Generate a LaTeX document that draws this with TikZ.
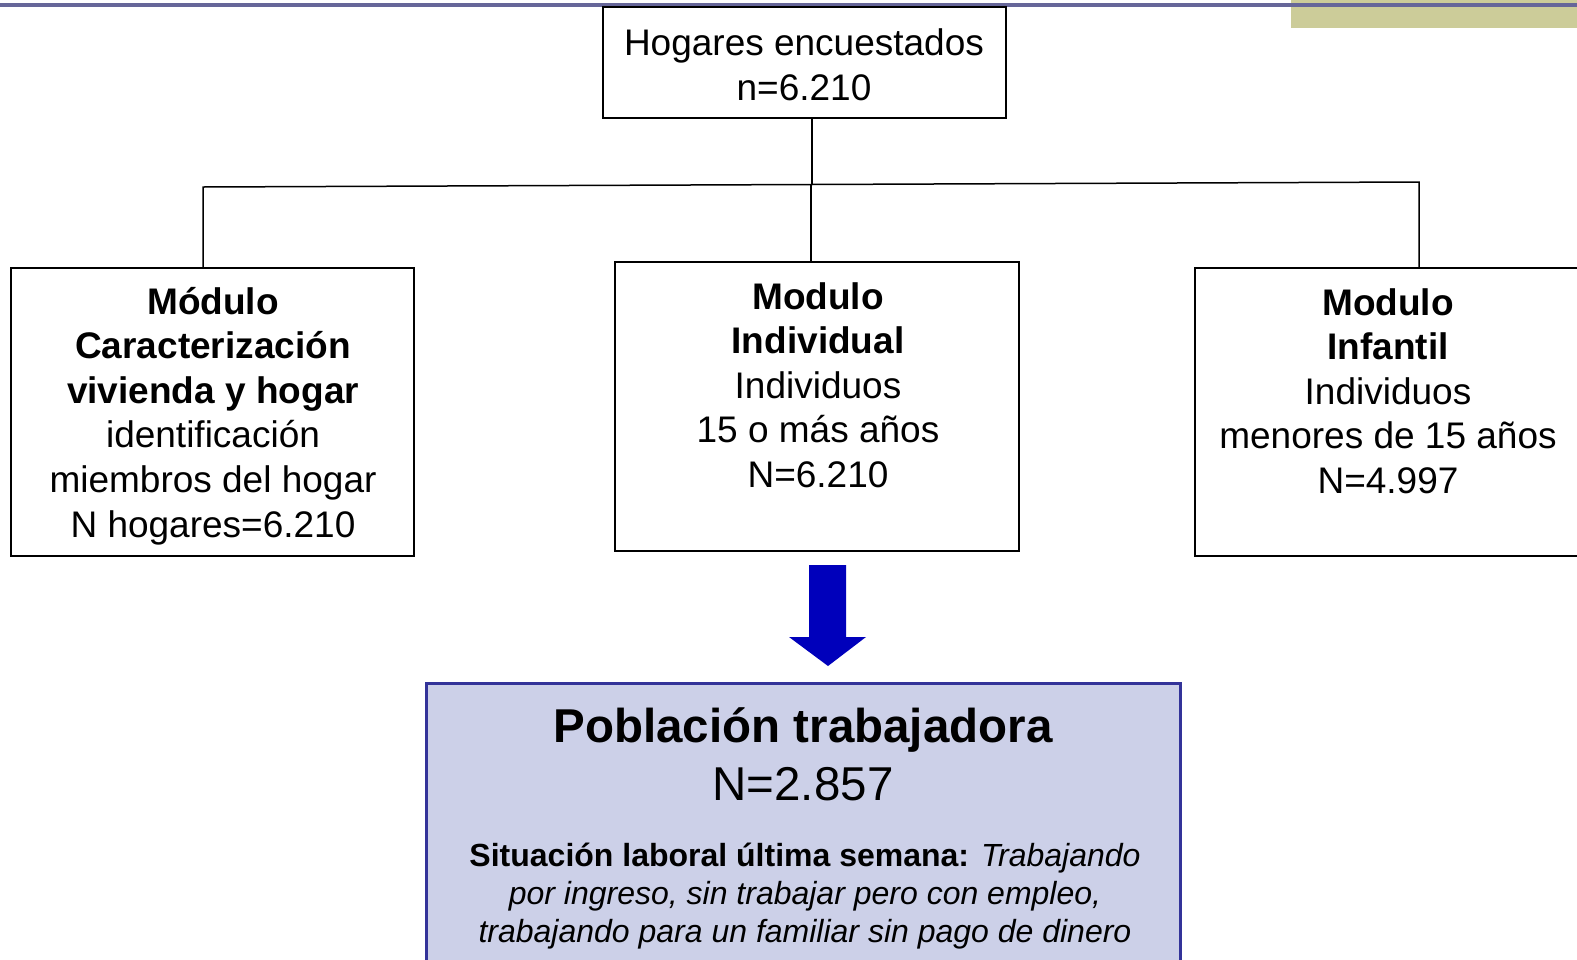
\documentclass[tikz,border=0pt]{standalone}
\usepackage{fontspec}
\setmainfont{Liberation Sans}
\definecolor{topline}{RGB}{102,102,153}
\definecolor{olive}{RGB}{204,204,153}
\definecolor{arrowblue}{RGB}{0,0,187}
\definecolor{popfill}{RGB}{204,208,232}
\definecolor{popdraw}{RGB}{51,51,153}
\begin{document}
\begin{tikzpicture}[x=1pt,y=-1pt,
  box/.style={draw=black, line width=1.6pt, fill=white, inner sep=0pt},
  conn/.style={draw=black, line width=1.5pt},
  txt/.style={align=center, font=\fontsize{37}{44.6}\selectfont, inner sep=0pt, anchor=base},
  popbox/.style={draw=popdraw, line width=3pt, fill=popfill, inner sep=0pt}]
\clip (0,0) rectangle (1577,959);
\useasboundingbox (0,0) rectangle (1577,959);
% header decorations
\fill[olive] (1291,0) rectangle (1577,28);
\fill[topline] (0,3) rectangle (1577,7);
% boxes
\node[box, minimum width=403pt, minimum height=111pt] (top) at (804.5,62.5) {};
\node[box, minimum width=403pt, minimum height=288pt] (left) at (212.5,412) {};
\node[box, minimum width=404pt, minimum height=289pt] (mid) at (817,406.5) {};
\node[box, minimum width=405pt, minimum height=288pt] (right) at (1397.5,412) {};
\node[popbox, minimum width=754pt, minimum height=317pt] (pop) at (803,841.5) {};
% connectors
\coordinate (jt) at (812,184.5);
\coordinate (jl) at (203,187);
\coordinate (jr) at (1419,182);
\coordinate (jm) at (811,184.5);
\coordinate (rt) at (1419,268);
\coordinate (lt) at (203,268);
\coordinate (mt) at (811,262);
\draw[conn] (top.south -| jt) -- (jt);
\draw[conn] (lt) -- (jl) -- (jr) -- (rt);
\draw[conn] (jm) -- (mt);
% block arrow
\fill[arrowblue] (809,565) -- (846,565) -- (846,637) -- (866,637) -- (828,666) -- (789,637) -- (809,637) -- cycle;
% texts (anchor = baseline of last line)
\node[txt] (toptext) at (804,100) {Hogares encuestados\\n=6.210};
\node[txt] (lefttext) at (213,537) {\textbf{Módulo}\\\textbf{Caracterización}\\\textbf{vivienda y hogar}\\identificación\\miembros del hogar\\N hogares=6.210};
\node[txt] (midtext) at (818,487.5) {\textbf{Modulo}\\\textbf{Individual}\\Individuos\\15 o más años\\N=6.210};
\node[txt] (righttext) at (1388,493.5) {\textbf{Modulo}\\\textbf{Infantil}\\Individuos\\menores de 15 años\\N=4.997};
\node[inner sep=0pt, anchor=base, font=\fontsize{47.5}{57}\selectfont\bfseries] (poptitle) at (803,742) {Población trabajadora};
\node[inner sep=0pt, anchor=base, font=\fontsize{47.5}{57}\selectfont] (popn) at (803,800) {N=2.857};
\node[inner sep=0pt, anchor=base, align=center, font=\fontsize{32}{38}\selectfont] (popdesc) at (805,942) {\textbf{Situación laboral última semana:} \textit{Trabajando}\\\textit{por ingreso, sin trabajar pero con empleo,}\\\textit{trabajando para un familiar sin pago de dinero}};
\end{tikzpicture}
\end{document}
